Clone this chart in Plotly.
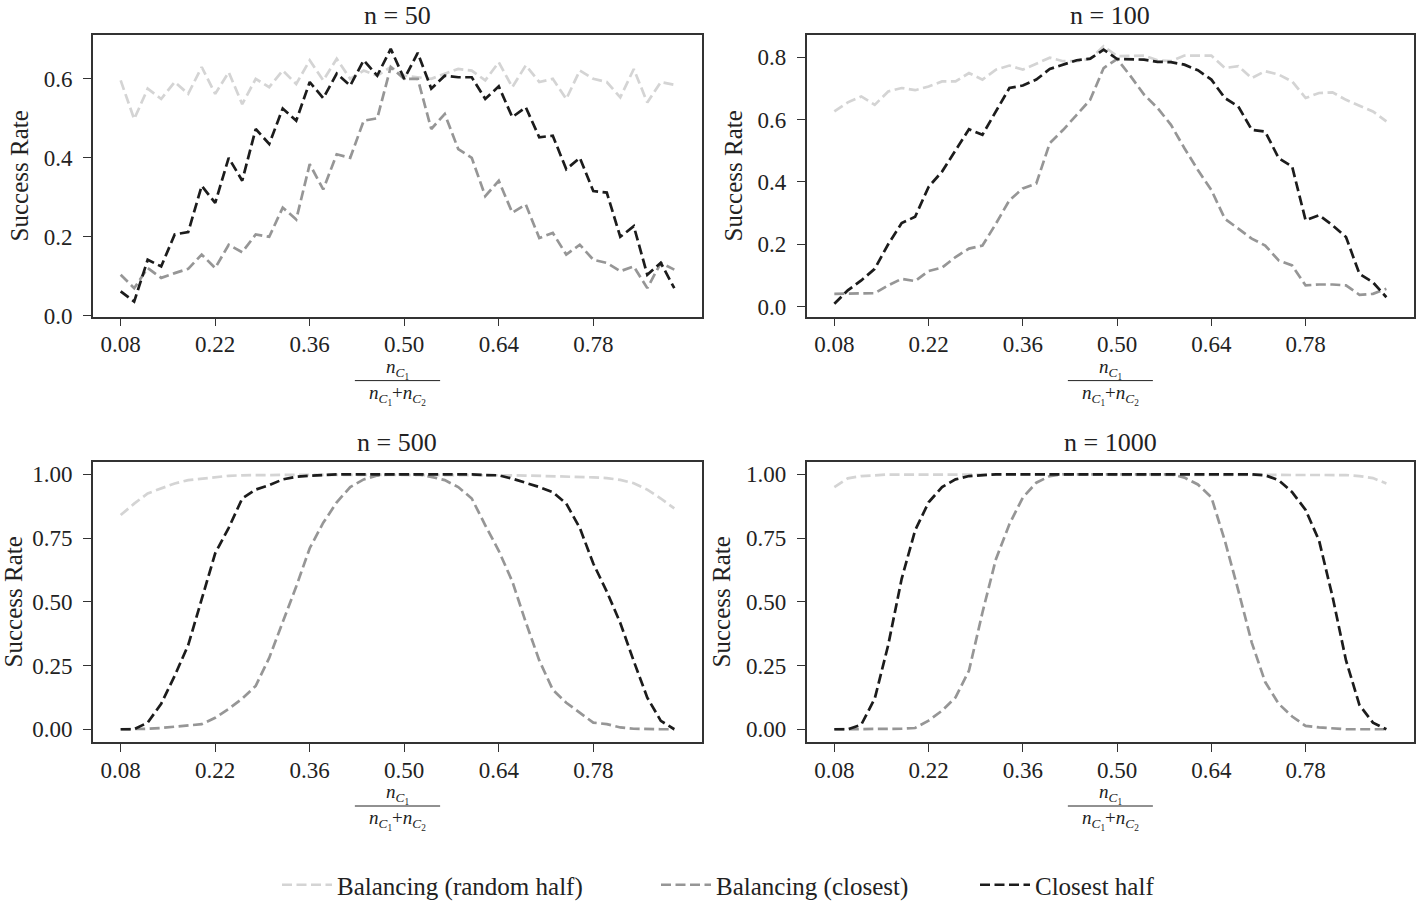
import plotly.graph_objects as go
from plotly.subplots import make_subplots

ratio = [0.08, 0.10, 0.12, 0.14, 0.16, 0.18, 0.20, 0.22, 0.24, 0.26, 0.28, 0.30, 0.32, 0.34,
         0.36, 0.38, 0.40, 0.42, 0.44, 0.46, 0.48, 0.50, 0.52, 0.54, 0.56, 0.58, 0.60, 0.62,
         0.64, 0.66, 0.68, 0.70, 0.72, 0.74, 0.76, 0.78, 0.80, 0.82, 0.84, 0.86, 0.88, 0.90]

sizes = [50, 100, 500, 1000]
series_names = ["Balancing (random half)", "Balancing (closest)", "Closest half"]

random_half_50 = [0.596, 0.498, 0.575, 0.549, 0.592, 0.562, 0.630, 0.562, 0.617, 0.536, 0.600, 0.579, 0.621, 0.587,
                  0.647, 0.596, 0.651, 0.600, 0.621, 0.608, 0.630, 0.608, 0.604, 0.600, 0.613, 0.625, 0.621, 0.596,
                  0.642, 0.579, 0.634, 0.592, 0.600, 0.549, 0.621, 0.600, 0.592, 0.553, 0.625, 0.540, 0.592, 0.585]
closest_50 = [0.104, 0.070, 0.121, 0.096, 0.108, 0.119, 0.155, 0.121, 0.180, 0.161, 0.206, 0.200, 0.274, 0.244,
              0.384, 0.320, 0.409, 0.400, 0.494, 0.500, 0.630, 0.600, 0.600, 0.473, 0.511, 0.422, 0.400, 0.303,
              0.342, 0.261, 0.282, 0.197, 0.210, 0.155, 0.180, 0.142, 0.134, 0.113, 0.125, 0.070, 0.134, 0.117]
half_50 = [0.062, 0.036, 0.142, 0.125, 0.206, 0.212, 0.329, 0.286, 0.400, 0.342, 0.473, 0.435, 0.525, 0.494,
           0.592, 0.551, 0.613, 0.583, 0.647, 0.608, 0.676, 0.600, 0.666, 0.575, 0.608, 0.604, 0.604, 0.549,
           0.581, 0.503, 0.528, 0.452, 0.456, 0.371, 0.400, 0.316, 0.312, 0.200, 0.227, 0.104, 0.134, 0.070]

random_half_100 = [0.626, 0.655, 0.674, 0.647, 0.690, 0.701, 0.694, 0.706, 0.722, 0.722, 0.749, 0.728, 0.760, 0.773,
                   0.760, 0.779, 0.798, 0.787, 0.787, 0.794, 0.835, 0.803, 0.805, 0.805, 0.790, 0.787, 0.805, 0.805,
                   0.805, 0.765, 0.771, 0.733, 0.755, 0.744, 0.722, 0.669, 0.685, 0.687, 0.663, 0.644, 0.626, 0.594]
closest_100 = [0.041, 0.041, 0.043, 0.043, 0.068, 0.089, 0.082, 0.114, 0.125, 0.159, 0.186, 0.196, 0.266, 0.341,
               0.379, 0.395, 0.524, 0.567, 0.615, 0.663, 0.765, 0.794, 0.739, 0.680, 0.637, 0.583, 0.508, 0.438,
               0.374, 0.282, 0.250, 0.218, 0.196, 0.148, 0.132, 0.068, 0.071, 0.071, 0.068, 0.038, 0.041, 0.057]
half_100 = [0.009, 0.052, 0.084, 0.121, 0.200, 0.268, 0.288, 0.384, 0.433, 0.502, 0.569, 0.551, 0.626, 0.701,
            0.709, 0.728, 0.762, 0.776, 0.790, 0.795, 0.824, 0.794, 0.794, 0.792, 0.785, 0.784, 0.776, 0.758,
            0.728, 0.669, 0.642, 0.567, 0.561, 0.476, 0.449, 0.277, 0.293, 0.261, 0.223, 0.105, 0.078, 0.030]

random_half_500 = [0.840, 0.885, 0.925, 0.944, 0.964, 0.977, 0.983, 0.990, 0.994, 0.996, 0.997, 0.998, 0.998, 0.998,
                   0.998, 0.998, 0.998, 0.998, 0.998, 0.998, 0.998, 0.998, 0.998, 0.998, 0.998, 0.998, 0.998, 0.998,
                   0.997, 0.996, 0.995, 0.994, 0.993, 0.992, 0.990, 0.988, 0.985, 0.978, 0.965, 0.940, 0.905, 0.866]
closest_500 = [0.000, 0.000, 0.002, 0.005, 0.010, 0.015, 0.020, 0.045, 0.080, 0.120, 0.170, 0.280, 0.420, 0.560,
               0.710, 0.810, 0.890, 0.950, 0.980, 0.995, 1.000, 1.000, 1.000, 0.990, 0.977, 0.950, 0.905, 0.800,
               0.700, 0.580, 0.420, 0.270, 0.155, 0.104, 0.065, 0.026, 0.020, 0.007, 0.002, 0.000, 0.000, 0.000]
half_500 = [0.000, 0.000, 0.026, 0.100, 0.210, 0.330, 0.510, 0.690, 0.790, 0.905, 0.940, 0.957, 0.980, 0.990,
            0.994, 0.997, 1.000, 1.000, 1.000, 1.000, 1.000, 1.000, 1.000, 1.000, 1.000, 1.000, 1.000, 0.997,
            0.996, 0.983, 0.967, 0.950, 0.930, 0.885, 0.790, 0.650, 0.540, 0.417, 0.267, 0.124, 0.033, 0.000]

random_half_1000 = [0.950, 0.984, 0.993, 0.997, 0.999, 0.999, 0.999, 0.999, 0.999, 0.999, 0.999, 0.999, 0.999, 0.999,
                    0.999, 0.999, 0.999, 0.999, 0.999, 0.999, 0.999, 0.999, 0.999, 0.999, 0.999, 0.999, 0.999, 0.999,
                    0.999, 0.999, 0.999, 0.999, 0.999, 0.999, 0.999, 0.999, 0.999, 0.999, 0.997, 0.993, 0.985, 0.964]
closest_1000 = [0.000, 0.000, 0.000, 0.000, 0.001, 0.002, 0.005, 0.034, 0.073, 0.125, 0.230, 0.458, 0.667, 0.804,
                0.909, 0.967, 0.993, 1.000, 1.000, 1.000, 1.000, 1.000, 1.000, 1.000, 1.000, 1.000, 0.987, 0.960,
                0.910, 0.740, 0.545, 0.340, 0.185, 0.100, 0.050, 0.013, 0.007, 0.004, 0.000, 0.000, 0.000, 0.000]
half_1000 = [0.000, 0.000, 0.018, 0.120, 0.330, 0.590, 0.780, 0.890, 0.950, 0.980, 0.993, 0.997, 1.000, 1.000,
             1.000, 1.000, 1.000, 1.000, 1.000, 1.000, 1.000, 1.000, 1.000, 1.000, 1.000, 1.000, 1.000, 1.000,
             1.000, 1.000, 1.000, 1.000, 0.996, 0.977, 0.930, 0.860, 0.740, 0.520, 0.270, 0.095, 0.026, 0.000]

x_ticks = [0.08, 0.22, 0.36, 0.50, 0.64, 0.78]

panels = [
    [random_half_50, closest_50, half_50],
    [random_half_100, closest_100, half_100],
    [random_half_500, closest_500, half_500],
    [random_half_1000, closest_1000, half_1000],
]
colors = ["#d4d4d4", "#969696", "#1c1c1c"]
y_ranges = [[-0.002, 0.711], [-0.032, 0.871], [-0.05, 1.05], [-0.05, 1.05]]
y_dticks = [0.2, 0.2, 0.25, 0.25]
y_formats = [".1f", ".1f", ".2f", ".2f"]

FONT = "Liberation Serif"
INK = "#222222"
W, H = 1418, 901

# one legend per series so each entry can sit where the original has it
legend_ids = ["legend", "legend2", "legend3"]
legend_x = [277, 656, 975]

fig = make_subplots(rows=2, cols=2)

for k, panel in enumerate(panels):
    row, col = k // 2 + 1, k % 2 + 1
    for j, ys in enumerate(panel):
        fig.add_trace(go.Scatter(x=ratio, y=ys, mode="lines", name=series_names[j],
                                 line=dict(color=colors[j], width=2.7, dash="10px,4.5px"),
                                 legendgroup=series_names[j], legend=legend_ids[j], showlegend=(k == 0)),
                      row=row, col=col)
    fig.update_xaxes(range=[0.039, 0.941], tickvals=x_ticks, ticktext=["%.2f" % t for t in x_ticks],
                     row=row, col=col)
    fig.update_yaxes(range=y_ranges[k], dtick=y_dticks[k], tick0=0, tickformat=y_formats[k],
                     title=dict(text="Success Rate", font=dict(size=25, family=FONT, color=INK), standoff=8),
                     row=row, col=col)

fig.update_xaxes(showline=True, mirror=True, linecolor="#333333", linewidth=1.8, ticks="outside", ticklen=8,
                 tickwidth=1.4, tickcolor="#333333", showgrid=False, zeroline=False, automargin=False,
                 ticklabelstandoff=-2, tickfont=dict(size=23, family=FONT, color=INK))
fig.update_yaxes(showline=True, mirror=True, linecolor="#333333", linewidth=1.8, ticks="outside", ticklen=8,
                 tickwidth=1.4, tickcolor="#333333", showgrid=False, zeroline=False, automargin=False,
                 ticklabelstandoff=6, tickfont=dict(size=23, family=FONT, color=INK))

fig.update_layout(
    xaxis=dict(domain=[0, 0.461]), xaxis2=dict(domain=[0.5403, 1]),
    xaxis3=dict(domain=[0, 0.461]), xaxis4=dict(domain=[0.5403, 1]),
    yaxis=dict(domain=[0.6017, 1]), yaxis2=dict(domain=[0.6017, 1]),
    yaxis3=dict(domain=[0, 0.3967]), yaxis4=dict(domain=[0, 0.3967]),
)

axis_ids = ["", "2", "3", "4"]
numerator = "<i>n</i><sub><i>C</i><sub>1</sub></sub>"
denominator = "<i>n</i><sub><i>C</i><sub>1</sub></sub>+<i>n</i><sub><i>C</i><sub>2</sub></sub>"
for k, n in enumerate(sizes):
    xr = "x" + axis_ids[k] + " domain"
    yr = "y" + axis_ids[k] + " domain"
    fig.add_annotation(x=0.5, y=1, xref=xr, yref=yr, text="n = %d" % n, showarrow=False,
                       yanchor="bottom", yshift=3, font=dict(size=26, family=FONT, color=INK))
    fig.add_annotation(x=0.5, y=0, xref=xr, yref=yr, text=numerator, showarrow=False,
                       yanchor="middle", yshift=-52, borderpad=0, font=dict(size=19, family=FONT, color=INK))
    fig.add_annotation(x=0.5, y=0, xref=xr, yref=yr, text=denominator, showarrow=False,
                       yanchor="middle", yshift=-78, borderpad=0, font=dict(size=19, family=FONT, color=INK))
    fig.add_shape(type="line", xref=xr, yref=yr, x0=0.43, x1=0.57, ysizemode="pixel", yanchor=0,
                  y0=-64, y1=-64, line=dict(color=INK, width=1))

legend_style = dict(orientation="h", xref="container", xanchor="left", yref="container",
                    y=16 / H, yanchor="middle", font=dict(size=25, family=FONT, color=INK),
                    itemwidth=50, bgcolor="rgba(0,0,0,0)")
fig.update_layout(
    width=W, height=H,
    margin=dict(l=93, r=4, t=35, b=159),
    plot_bgcolor="white", paper_bgcolor="white",
    font=dict(family=FONT, color=INK),
    legend=dict(legend_style, x=legend_x[0] / W),
    legend2=dict(legend_style, x=legend_x[1] / W),
    legend3=dict(legend_style, x=legend_x[2] / W),
)

# drop the browser's default 8px page margin so the figure fills the window
fig.write_html("out.html", config={"displayModeBar": False},
               post_script="document.body.style.margin='0';document.body.style.overflow='hidden';")
